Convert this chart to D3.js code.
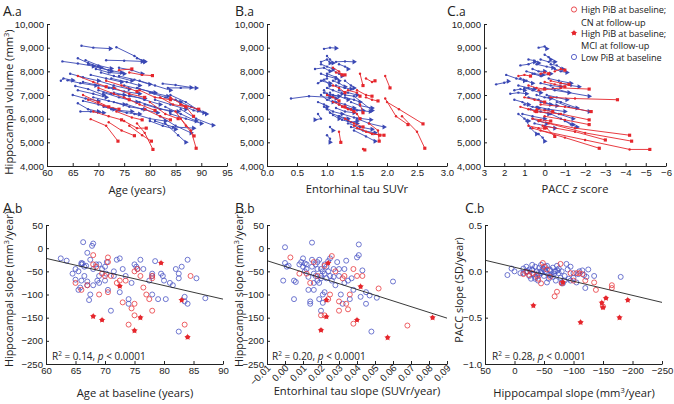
<!DOCTYPE html>
<html><head><meta charset="utf-8">
<script src="https://cdn.jsdelivr.net/npm/d3@7"></script>
<style>
body{margin:0;background:#fff;}
svg{font-family:"Open Sans",sans-serif;}
.tick text{font-size:9.6px;fill:#222;}
.domain,.tick line{stroke:#222;}
</style></head>
<body><svg id="c" width="674" height="404"></svg>
<script>
// ---------- DATA ----------
// Top row trajectories: flat [x1,y1,x2,y2,...] per participant
const trajAgeLow = [
[66.7,9080,69,9000,72.3,8960],[73.5,9020,77,8650,78.5,8450,79,8400],[77.5,8550,79,8420],
[63,8420,66,8330,69,8220],[66,8550,68,8350,70.5,8150],[67.5,8470,70,8250,72.5,8120],
[71.5,8470,75,8450,78.5,8420],[69,8200,72,8050,74.5,7950],[62.7,7600,63.2,7700,65,7620],
[64,7620,66.5,7500,69.5,7400],[65.5,7380,68,7250,71,7000],[66,7200,69,7050,71.5,6900],
[66,6650,68,6400,70,6300],[66.5,6300,68.5,6300,71,6250],[67,6750,70,6600,73,6400],
[68.5,7850,71.5,7700,74.5,7550],[70,7600,73,7400,76,7250],[70.5,7950,73,7800,76.5,7600],
[71,7100,74,6900,77.5,6700],[72,7300,75,7150,78,7050],[73,6700,76,6500,79,6400],
[72.5,6400,75.5,6250,78,6200],[74,7800,77,7650,80,7450],[75,7400,78,7250,81,7100],
[76,7000,79,6800,82,6600],[77,6200,80,6000,83,5900],[78,6700,81,6500,84,6300],
[80,7100,83,6900,86,6700],[82.5,7480,85,7420,88,7320],[83.5,7300,86,7300,89,7300],
[81,6800,84,6600,87,6400],[83,6500,86,6200,89,5900],[84,6200,87,6000,90,5800],
[85,6800,88,6500,91,6200],[86,6400,89,6000,92.3,5720],[82,6100,85,5700,88,5400],
[83,5800,85.5,5300,87,5000],[80,5900,82.5,5700,85,5550],[79,6600,82,6400,85.5,6300],
[69,6900,72,6750,75,6600],[67,7550,70,7400,73,7300],[69.5,8100,72,7950,75,7900],
[74,8150,76.5,8050,78.5,7900],[73,7100,76,6950,79,6850],[75.5,6600,78.5,6400,81.5,6250],
[77.5,7300,80.5,7100,83.5,6950],[71,6500,74,6350,76.5,6300],[64.5,7900,67,7750,70,7600],
[68,8300,70,8200,72.5,8000],[84,7000,87,6700,89.5,6350],[81,5900,84.5,5650,88.5,5600],
[70,7200,72.5,7050,75,7000],[72.5,7700,75.5,7550,78,7400],[65,7000,67.5,6850,70,6750],
[78,7600,81,7400,84,7200],[86,6600,88.5,6350,90.5,6250]
];
const trajAgeHigh = [
[74,8050,76.5,8100],[76,7950,78.5,7850,80.5,7820],[68.5,5980,71.5,5700,73.8,5050],
[72,5850,74.5,5500,77,5280],[75,5900,77.5,5600,79.3,5600],[76,5700,78.5,5300,80.3,5050],
[77.5,5800,79,5400,80.6,4700],[85,6300,87,5700,88.6,5270],[86,6000,88,5500,89,4750],
[84,6900,87,6500,88.5,6100],[86,6600,89.5,6400],[70,7300,73,7050,76,6800],
[67,7000,70,6700,72,6500],[69,6300,72,6100,74.5,5950],[71.5,7600,74.5,7400,77.5,7150],
[73,7300,76,7050,79,6900],[75,6900,78,6600,81,6350],[78,7200,81,6900,84,6800],
[80,6700,83,6200,85.5,6000],[82,6900,84.5,6600,87,6500],[66,7800,69,7550,71.5,7350],
[79,6400,82,6100,84,5950],[73.5,6300,76.5,6050,78.5,5950],[68,6800,71,6550,74,6400]
];
const trajTauLow = [
[0.95,8950,1.05,9000,1.15,8980],[0.8,8100,0.95,8150,1.05,8000],[1.15,8400,1.3,8420,1.45,8400],
[0.9,8300,1.0,8200,1.1,8100],[1.0,7900,1.15,7750,1.2,7600],[0.85,7500,0.95,7650,1.05,7400],
[1.0,7300,1.1,7200,1.25,7050],[1.1,7000,1.2,6950,1.35,6800],[0.9,7000,1.0,6800,1.1,6700],
[1.2,7200,1.35,7100,1.5,7000],[1.3,6900,1.45,6800,1.55,6700],[1.4,6700,1.55,6550,1.75,6450],
[1.3,6500,1.5,6350,1.72,6300],[1.2,6600,1.4,6400,1.6,6350],[1.25,6200,1.45,6050,1.73,5950],
[1.35,5800,1.55,5650,1.75,5550],[1.4,5650,1.6,5500,1.8,5400],[1.45,5500,1.65,5250,1.8,5050],
[1.5,6000,1.7,5800,1.95,5650],[0.85,6200,0.9,6000,0.8,5950],[1.05,5650,1.1,5500],
[1.0,5300,1.05,5150,1.05,5000],[1.0,7700,0.9,7600,1.05,7500],[1.1,8050,1.2,7900,1.25,7800],
[1.15,7400,1.3,7300,1.4,7250],[0.95,6500,1.1,6300,1.25,6200],[1.0,6400,1.1,6150,1.2,6000],
[1.05,7100,1.1,6950,1.15,6850],[0.9,8400,1.0,8500,1.05,8350],[1.3,7600,1.4,7400,1.45,7300],
[0.4,6850,0.7,6950,1.05,6900],[0.95,7200,1.0,7050,1.05,6900],[1.15,6700,1.3,6600,1.45,6450],
[1.2,6100,1.35,5900,1.5,5800],[1.05,6250,1.2,6100,1.35,6000],[1.3,7000,1.45,6950,1.75,6350],
[0.9,7900,1.0,7800,1.15,7700],[1.1,7600,1.2,7500,1.3,7350],[1.0,8650,1.05,8500,1.1,8350],
[1.15,6450,1.3,6300,1.45,6250],[0.85,6700,0.95,6600,1.0,6500],[1.25,5950,1.4,5850,1.5,5900],
[1.2,8300,1.3,8200,1.35,8100],[0.95,7100,1.05,7000,1.2,6950]
];
const trajTauHigh = [
[1.1,8150,1.2,8000,1.25,7850],[1.15,7950,1.3,7850],[1.55,7900,1.6,7400],
[1.65,7700,1.75,7550,1.8,7600],[1.97,7800,2.05,7300],[1.5,7200,1.65,7000,1.75,6950],
[1.65,6900,1.75,6800,1.85,6750],[2.0,6700,2.2,6400,2.6,5780],[1.97,6850,2.15,6100,2.35,5750],
[2.25,6100,2.5,5450,2.63,4750],[1.55,6600,1.6,6250],[1.4,6400,1.5,6200,1.55,6000],
[1.3,6000,1.45,5800,1.6,5650],[1.45,5700,1.65,5450,1.88,5300],[1.5,5600,1.75,5350,1.95,5300],
[1.7,5800,1.85,5500,1.87,5050],[1.2,5450,1.23,5000],[1.6,4720,1.63,4680],
[1.1,7400,1.2,7300,1.3,7100],[1.0,7000,1.1,6900,1.2,6750],[1.25,6500,1.35,6400,1.45,6300],
[1.35,7200,1.5,7100,1.55,6950],[1.1,6700,1.2,6600,1.3,6500]
];
const trajPaccLow = [
[2.4,7450,2.0,7520,1.8,7580],[1.9,7850,1.4,7700,1.0,7600],[1.7,7050,1.3,7100,0.9,7050],
[1.2,8250,0.8,8300,0.5,8400],[0.3,9000,0.0,9050,-0.1,8950],[0.2,8500,-0.2,8400,-0.5,8400],
[0.6,7900,0.2,7800,-0.3,7900],[1.0,7300,0.6,7200,0.2,7100],[-0.2,7700,-0.7,7600,-1.3,7500],
[0.0,7300,-0.5,7200,-1.2,7100],[0.8,6900,0.3,6800,-0.3,6600],[0.4,6500,-0.2,6400,-1.0,6300],
[1.1,6200,0.6,6100,0.0,6000],[-0.3,6200,-0.8,6000,-1.4,5750],[0.5,5800,0.0,5700,-0.5,5600],
[0.9,5900,0.7,5600,0.4,5350],[0.3,5350,0.1,5200,0.0,5050],[-0.4,7300,-1.2,7100,-2.2,6950],
[-0.2,6900,-0.8,6700,-1.6,6450],[1.3,7400,0.8,7300,0.5,7250],[0.9,8000,0.5,7900,0.1,7850],
[-0.5,8100,-0.8,8000,-1.1,7950],[0.4,8300,-0.1,8200,-0.4,8150],[1.5,6800,1.1,6700,0.8,6600],
[0.0,6400,-0.7,6200,-1.4,6000],[1.2,7700,0.9,7600,0.6,7500],[0.2,7500,-0.3,7400,-0.8,7350],
[-0.6,6700,-1.2,6500,-2.2,6300],[0.7,6400,0.2,6300,-0.2,6200],[1.0,6600,0.6,6500,0.3,6450],
[-1.0,5900,-1.3,5750,-1.6,5650],[0.0,8700,-0.2,8600,-0.3,8500],[0.6,6000,0.3,5900,-0.1,5800],
[1.3,6200,1.0,6000,0.8,5900],[-0.1,7000,-0.6,6900,-1.1,6800],[0.4,7000,0.0,6900,-0.3,6850],
[-0.8,7500,-1.3,7400,-1.7,7350],[0.6,8100,0.3,8000,0.0,8000],[1.5,7200,1.2,7250,1.0,7200],
[0.2,6700,-0.3,6600,-0.6,6550],[0.8,8500,0.5,8450,0.3,8350],[-0.3,8300,-0.6,8250,-0.9,8100]
];
const trajPaccHigh = [
[1.3,7800,1.0,7850,0.7,7800],[-0.5,8000,-0.8,8100,-1.0,8050],[0.0,7550,-0.5,7450,-1.0,7350],
[0.3,7200,-0.8,7300,-2.2,7250],[-0.3,6900,-1.5,6850,-3.6,6800],[0.2,6600,-1.0,6500,-2.3,6300],
[0.5,6300,-0.8,6200,-2.2,5950],[0.0,6100,-1.0,5950,-2.2,5750],[0.3,5900,-1.5,5600,-4.2,5300],
[0.1,5700,-1.5,5450,-3.0,5100],[-0.2,5800,-2.0,5400,-4.3,5050],[0.2,5500,-2.0,5100,-4.2,4700,-5.2,4700],
[0.6,5600,-1.0,5200,-2.7,4750],[0.6,6000,0.2,5950,-0.3,5900],[1.0,6900,0.5,6800,0.0,6700],
[0.8,7400,0.4,7300,0.0,7250],[0.4,6400,0.0,6350,-0.4,6300],[1.2,6500,0.8,6400,0.4,6300],
[-0.3,7600,-0.8,7500,-1.2,7450],[0.8,5700,0.3,5600,0.0,5600],[0.2,7900,0.0,7950,-0.2,7900],
[-0.1,5600,-0.5,5250]
];

// Bottom row scatter: [x, y]
const ageSlopeLow = [[62.5,-22],[63.5,-27],[65,-68],[65.5,-50],[66,-35],[66,-32],[66.3,13],[66.5,-40],[67,-10],[67.5,-25],[67.8,5],[68,10],[68,-45],[68.5,-35],[69,-35],[69.5,-45],[69,-75],[70,-70],[70,-40],[70.5,-90],[70.3,-30],[71.5,-50],[71.5,-60],[72,-25],[72.5,-22],[73,-45],[74,-110],[74,-120],[74.5,-75],[75,-35],[75.3,-40],[75.5,-45],[76,-25],[77.5,-70],[78,-55],[78,-60],[78,-100],[78.5,-28],[79,-110],[79.5,-55],[80,-70],[80.3,-110],[81,-75],[81.5,-80],[82,-45],[82.5,-55],[82.5,-65],[83,-40],[83.5,-115],[83.5,-105],[84,-25],[84,-120],[82.5,-180],[85.5,-65],[87,-108],[65.5,-90],[65.8,-85],[66,-70],[66.5,-60],[67,-72],[67.3,-112],[67.5,-100],[68,-80],[71,-135],[72.5,-95],[65,-45],[64.5,-55],[67,-80],[69,-60],[66.2,-33],[66.8,-38],[68.7,-70],[70.2,-55],[73.5,-60],[76.5,-45],[79.8,-60]];
const ageSlopeHighCN = [[65,-75],[66,-90],[67,-80],[68,-15],[68.5,-40],[69,-100],[69.5,-55],[70,-60],[70.5,-20],[70.5,-95],[71,-60],[72,-75],[72.5,-70],[73,-117],[73.5,-70],[74,-165],[74.5,-130],[75,-50],[75,-120],[75,-145],[75.5,-45],[76,-60],[76.5,-85],[77,-100],[77.5,-110],[78,-135],[78,-65],[78,-60],[83.5,-165],[84.5,-60],[70.5,-30],[68,-35]];
const ageSlopeHighMCI = [[68,-147],[69.5,-155],[72.5,-82],[75,-178],[76,-150],[79.5,-32],[83,-112],[84,-192]];
const ageFit = [[60,-22],[90,-110]];

const tauSlopeLow = [[-0.001,-70],[0,2],[0,-32],[0.001,-40],[0.005,-110],[0.008,-35],[0.009,-30],[0.01,-40],[0.01,-22],[0.011,-50],[0.012,-45],[0.013,-62],[0.013,-90],[0.014,-115],[0.014,-120],[0.015,12],[0.015,-25],[0.016,-55],[0.016,-90],[0.017,-35],[0.018,-45],[0.018,-70],[0.019,-75],[0.019,-110],[0.02,-45],[0.02,-60],[0.021,-50],[0.02,-135],[0.021,-100],[0.021,-118],[0.022,-35],[0.022,-55],[0.023,-40],[0.023,-65],[0.024,-28],[0.024,-50],[0.025,-22],[0.025,-60],[0.026,-70],[0.027,-45],[0.028,-80],[0.029,-30],[0.03,-60],[0.03,-45],[0.031,-100],[0.032,-120],[0.033,-45],[0.034,-27],[0.035,-70],[0.036,-110],[0.038,-90],[0.04,-20],[0.041,8],[0.041,-15],[0.042,-105],[0.043,-48],[0.045,-120],[0.045,-95],[0.047,-102],[0.048,-180],[0.051,-107],[0.06,-72],[0.002,-38],[0.012,-35],[0.006,-73],[0.005,-70],[0.017,-60],[0.019,-25],[0.016,-75],[0.022,-95],[0.02,-65],[0.015,-40],[0.018,-30],[0.011,-33],[0.027,-62],[0.033,-75],[0.037,-65]];
const tauSlopeHighCN = [[0.003,-20],[0.008,-55],[0.012,-55],[0.014,-75],[0.016,-30],[0.018,-60],[0.02,-145],[0.022,-145],[0.024,-110],[0.025,-100],[0.026,-17],[0.028,-50],[0.03,-135],[0.03,-115],[0.032,-65],[0.033,-60],[0.034,-120],[0.035,-132],[0.036,-100],[0.038,-163],[0.038,-45],[0.04,-60],[0.043,-60],[0.052,-87],[0.068,-167],[0.022,-38]];
const tauSlopeHighMCI = [[0.02,-177],[0.023,-112],[0.023,-148],[0.024,-32],[0.04,-155],[0.042,-83],[0.057,-193],[0.082,-150]];
const tauFit = [[-0.01,-27],[0.09,-151]];

const hipPaccLow = [[12,-0.04],[5,0.03],[0,0.0],[-10,-0.02],[-15,0.03],[-20,0.05],[-22,0.0],[-25,0.02],[-28,-0.08],[-30,0.07],[-30,0.02],[-32,-0.03],[-35,0.05],[-35,-0.06],[-38,0.0],[-40,-0.1],[-42,0.04],[-45,-0.02],[-45,0.07],[-48,0.03],[-50,-0.05],[-52,0.0],[-55,0.06],[-55,-0.12],[-58,-0.08],[-60,0.02],[-60,-0.04],[-62,-0.05],[-65,0.04],[-68,0.0],[-70,-0.1],[-72,0.06],[-75,0.03],[-75,-0.02],[-78,-0.07],[-80,0.0],[-82,-0.13],[-85,-0.05],[-88,0.08],[-90,0.02],[-92,-0.08],[-95,0.05],[-100,-0.02],[-100,-0.07],[-105,-0.12],[-108,-0.03],[-110,0.0],[-115,0.01],[-118,-0.04],[-120,-0.18],[-122,-0.06],[-125,0.02],[-135,-0.05],[-180,-0.06],[-20,0.0],[-25,-0.05],[-40,-0.02],[-45,0.0],[-50,0.02],[-55,-0.02],[-65,-0.06],[-70,0.0],[-80,-0.12],[-85,-0.1],[-95,-0.1],[-30,0.01],[-60,0.01],[-35,-0.08],[-15,-0.02],[-42,-0.04],[-52,0.05],[-67,-0.03],[-73,0.01]];
const hipPaccHighCN = [[-15,-0.03],[-20,-0.01],[-25,-0.04],[-30,-0.02],[-38,-0.05],[-40,-0.08],[-45,-0.13],[-48,0.09],[-50,0.05],[-55,0.02],[-60,-0.06],[-68,-0.27],[-72,-0.22],[-78,0.08],[-80,-0.13],[-95,-0.02],[-100,-0.1],[-105,-0.02],[-115,-0.03],[-120,-0.1],[-135,-0.12],[-138,-0.2],[-150,-0.38],[-165,-0.15],[-165,-0.18],[-110,-0.02]];
const hipPaccHighMCI = [[-32,-0.37],[-82,-0.12],[-112,-0.55],[-148,-0.34],[-150,-0.39],[-155,-0.29],[-178,-0.5],[-192,-0.31]];
const hipFit = [[50,0.12],[-250,-0.335]];

const ageTicks = [60,65,70,75,80,85,90,95];
const tauTicks = [0,0.5,1,1.5,2,2.5,3];
const paccTicks = [3,2,1,0,-1,-2,-3,-4,-5,-6];
const volTicks = [4000,5000,6000,7000,8000,9000,10000];
const ageBTicks = [60,65,70,75,80,85,90];
const hipSlopeTicks = [50,0,-50,-100,-150,-200,-250];
const tauSlopeTicks = [-0.01,0,0.01,0.02,0.03,0.04,0.05,0.06,0.07,0.08,0.09];
const hipXTicks = [50,0,-50,-100,-150,-200,-250];
const paccSlopeTicks = [0.5,0,-0.5,-1];

const legendLabels = [["High PiB at baseline;","CN at follow-up"],["High PiB at baseline;","MCI at follow-up"],["Low PiB at baseline"]];

// ---------- DRAW ----------
const RED = "#e5262c", BLUE = "#3a48b4", BLUE2 = "#4b55c4", RED2 = "#e8383d";
const svg = d3.select("#c");
const pairs = a => d3.range(0, a.length, 2).map(i => [a[i], a[i+1]]);

function axes(xs, ys, xt, yt, xf, yf, rotX) {
  const ax = svg.append("g").attr("transform", `translate(0,${ys.range()[0]})`)
    .call(d3.axisBottom(xs).tickValues(xt).tickFormat(xf).tickSizeInner(-3).tickSizeOuter(0).tickPadding(3));
  if (rotX) {
    ax.selectAll(".tick text").attr("text-anchor","end").attr("dy",null).attr("y",null)
      .attr("transform","translate(2,3) rotate(-45)").attr("dominant-baseline","middle");
  }
  svg.append("g").attr("transform", `translate(${xs.range()[0]},0)`)
    .call(d3.axisLeft(ys).tickValues(yt).tickFormat(yf).tickSizeInner(-3).tickSizeOuter(0).tickPadding(3));
}

function drawTraj(list, xs, ys, color, endType) {
  const g = svg.append("g");
  const line = d3.line().x(d => xs(d[0])).y(d => ys(d[1]));
  list.forEach(t => {
    const p = pairs(t);
    g.append("path").attr("d", line(p)).attr("fill","none").attr("stroke",color).attr("stroke-width",0.9);
    p.slice(0,-1).forEach(d => g.append("circle").attr("cx",xs(d[0])).attr("cy",ys(d[1])).attr("r",1.2).attr("fill",color));
    const e = p[p.length-1];
    if (endType === "tri") {
      g.append("path").attr("d", d3.symbol(d3.symbolTriangle).size(11)())
        .attr("transform",`translate(${xs(e[0])},${ys(e[1])}) rotate(90)`).attr("fill",color);
    } else {
      g.append("path").attr("d", d3.symbol(d3.symbolSquare).size(10)())
        .attr("transform",`translate(${xs(e[0])},${ys(e[1])})`).attr("fill",color);
    }
  });
}

function mciMark(sel) {
  sel.append("circle").attr("r",2.1).attr("fill",RED);
  sel.append("path").attr("d", d3.symbol(d3.symbolStar).size(14)()).attr("fill",RED);
}

function drawScatter(low, cn, mci, xs, ys, fit) {
  const g = svg.append("g");
  g.selectAll(null).data(low).join("circle").attr("cx",d=>xs(d[0])).attr("cy",d=>ys(d[1])).attr("r",2.5)
    .attr("fill","none").attr("stroke",BLUE2).attr("stroke-width",0.8);
  g.selectAll(null).data(cn).join("circle").attr("cx",d=>xs(d[0])).attr("cy",d=>ys(d[1])).attr("r",2.5)
    .attr("fill","none").attr("stroke",RED2).attr("stroke-width",0.8);
  g.selectAll(null).data(mci).join("g").attr("transform",d=>`translate(${xs(d[0])},${ys(d[1])})`).call(mciMark);
  g.append("path").attr("d", d3.line().x(d=>xs(d[0])).y(d=>ys(d[1]))(fit)).attr("stroke","#222").attr("stroke-width",0.9).attr("fill","none");
}

const fmtVol = d3.format(",");
// Top scales
const yVol = d3.scaleLinear([4000,10000],[166,24]);
const xAge = d3.scaleLinear([60,95],[47,227]);
const xTau = d3.scaleLinear([0,3],[267,447]);
const xPacc = d3.scaleLinear([3,-6],[484,666]);
// Bottom scales
const yHip = d3.scaleLinear([-250,50],[364,225]);
const xAgeB = d3.scaleLinear([60,90],[46,223]);
const xTauS = d3.scaleLinear([-0.01,0.09],[267,447]);
const xHipS = d3.scaleLinear([50,-250],[485,662]);
const yPS = d3.scaleLinear([-1,0.5],[364,225]);

axes(xAge, yVol, ageTicks, volTicks, d3.format("d"), fmtVol);
axes(xTau, yVol, tauTicks, volTicks, d3.format(".1f"), fmtVol);
axes(xPacc, yVol, paccTicks, volTicks, d3.format("d"), fmtVol);
axes(xAgeB, yHip, ageBTicks, hipSlopeTicks, d3.format("d"), d3.format("d"));
axes(xTauS, yHip, tauSlopeTicks, hipSlopeTicks, d3.format(".2f"), d3.format("d"), true);
axes(xHipS, yPS, hipXTicks, paccSlopeTicks, d3.format("d"), d3.format(".1f"));

drawTraj(trajAgeLow, xAge, yVol, BLUE, "tri");
drawTraj(trajAgeHigh, xAge, yVol, RED, "sq");
drawTraj(trajTauLow, xTau, yVol, BLUE, "tri");
drawTraj(trajTauHigh, xTau, yVol, RED, "sq");
drawTraj(trajPaccLow, xPacc, yVol, BLUE, "tri");
drawTraj(trajPaccHigh, xPacc, yVol, RED, "sq");

drawScatter(ageSlopeLow, ageSlopeHighCN, ageSlopeHighMCI, xAgeB, yHip, ageFit);
drawScatter(tauSlopeLow, tauSlopeHighCN, tauSlopeHighMCI, xTauS, yHip, tauFit);
drawScatter(hipPaccLow, hipPaccHighCN, hipPaccHighMCI, xHipS, yPS, hipFit);

// Text helpers
function txt(x, y, s, size, anchor, rot) {
  const t = svg.append("text").attr("x",x).attr("y",y).attr("font-size",size).attr("fill","#222")
    .attr("text-anchor",anchor||"start");
  if (rot) t.attr("transform",`rotate(-90,${x},${y})`);
  return t;
}
const TS = 11.2;
// Panel labels
[["A",".a",3,15.5],["B",".a",235,15.5],["C",".a",447,15.5],["A",".b",3,213],["B",".b",235,213],["C",".b",465,213]].forEach(p=>{
  const t = txt(p[2],p[3],"",14);
  t.append("tspan").text(p[0]);
  t.append("tspan").attr("font-size",12).text(p[1]);
});
// Axis titles
txt(137,194,"",TS,"middle").text("Age (years)");
txt(357,193,"",TS,"middle").text("Entorhinal tau SUVr");
{ const t = txt(575,193,"",TS,"middle"); t.append("tspan").text("PACC "); t.append("tspan").attr("font-style","italic").text("z"); t.append("tspan").text(" score"); }
{ const t = txt(13,102,"",TS,"middle",true); t.append("tspan").text("Hippocampal volume (mm"); t.append("tspan").attr("font-size",7.5).attr("dy",-4).text("3"); t.append("tspan").attr("dy",4).text(")"); }
txt(135,397,"",TS,"middle").text("Age at baseline (years)");
txt(357,395,"",TS,"middle").text("Entorhinal tau slope (SUVr/year)");
{ const t = txt(574,397,"",TS,"middle"); t.append("tspan").text("Hippocampal slope (mm"); t.append("tspan").attr("font-size",7.5).attr("dy",-4).text("3"); t.append("tspan").attr("dy",4).text("/year)"); }
[[13,289],[243,289]].forEach(p=>{ const t = txt(p[0],p[1],"",10.8,"middle",true); t.append("tspan").text("Hippocampal slope (mm"); t.append("tspan").attr("font-size",7.2).attr("dy",-4).text("3"); t.append("tspan").attr("dy",4).text("/year)"); });
txt(463,290,"",10.8,"middle",true).text("PACC slope (SD/year)");
// R² annotations
[[52,"0.14"],[272,"0.20"],[492,"0.28"]].forEach(p=>{
  const t = txt(p[0],360,"",10);
  t.append("tspan").text("R"); t.append("tspan").attr("font-size",6.5).attr("dy",-4).text("2");
  t.append("tspan").attr("dy",4).text(" = "+p[1]+", ");
  t.append("tspan").attr("font-style","italic").text("p");
  t.append("tspan").text(" < 0.0001");
});
// Legend
const lg = svg.append("g");
lg.append("circle").attr("cx",574).attr("cy",9.5).attr("r",2.6).attr("fill","none").attr("stroke",RED2).attr("stroke-width",0.9);
lg.append("g").attr("transform","translate(574,33)").call(mciMark);
lg.append("circle").attr("cx",574).attr("cy",57).attr("r",2.6).attr("fill","none").attr("stroke",BLUE2).attr("stroke-width",0.9);
const lgY = [[13,25.5],[36.5,49],[61]];
legendLabels.forEach((lines,i)=>lines.forEach((s,j)=>txt(581,lgY[i][j],"",9.2).attr("letter-spacing",-0.1).text(s)));
</script></body></html>
